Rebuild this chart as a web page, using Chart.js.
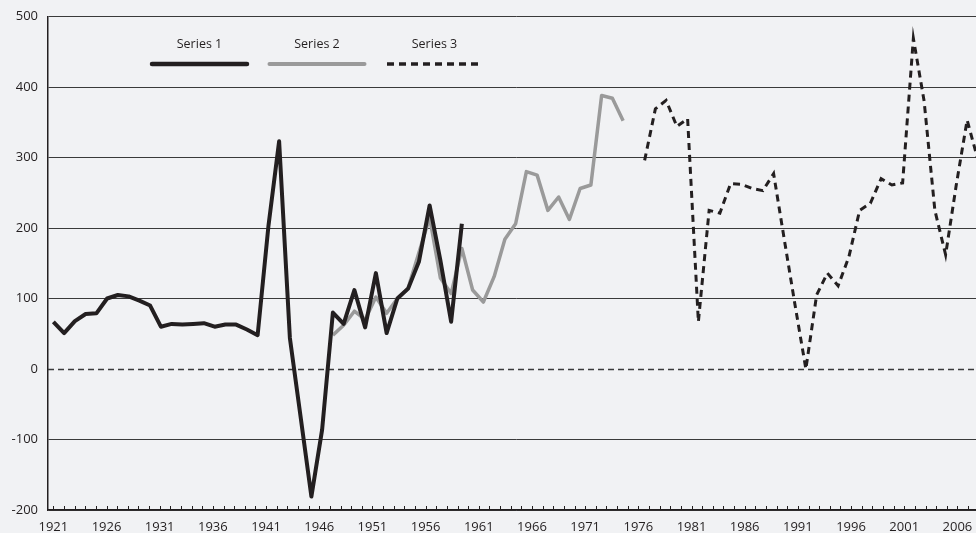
<!DOCTYPE html>
<html>
<head>
<meta charset="utf-8">
<title>Series 1–3, 1921–2007</title>
<script src="https://cdn.jsdelivr.net/npm/chart.js@4/dist/chart.umd.min.js"></script>
<style>
    html, body { margin: 0; padding: 0; background: #f1f2f4; overflow: hidden; }
    #wrap { width: 976px; height: 533px; overflow: hidden; }
    canvas { display: block; }
</style>
</head>
<body>
<div id="wrap"><canvas id="chart" width="984" height="533"></canvas></div>
<script>
// ─── Data ─────────────────────────────────────────────────────────
const firstYear = 1921;
const lastYear = 2008;
const years = [];
for (let y = firstYear; y <= lastYear; y++) years.push(String(y));

const series1Start = 1921;
const series1 = [67, 51, 68, 78, 79, 100, 105, 103, 97, 90,
                 60, 64, 63, 64, 65, 60, 63, 63, 56, 48,
                 202, 323, 44, -68, -181, -86, 80, 64, 112, 59,
                 136, 51, 100, 114, 152, 232, 154, 67, 206];

const series2Start = 1947;
const series2 = [48, 62, 82, 70, 102, 79, 100, 115, 165, 215,
                 129, 107, 171, 112, 95, 131, 184, 206, 280, 275,
                 225, 244, 212, 256, 261, 388, 384, 352];

const series3Start = 1976;
const series3 = [296, 369, 381, 344, 355, 67, 225, 221, 263, 262,
                 256, 253, 277, 183, 90, 0, 105, 136, 118, 159,
                 225, 235, 270, 261, 264, 469, 380, 225, 162, 262,
                 353, 297];

const yTicks = [-200, -100, 0, 100, 200, 300, 400, 500];

// the plotted years run a touch wider than the year ticks in the original
const DATA_X_MIN = 1920.5;
const DATA_X_MAX = 2007.57;

const INK = '#231f20';
const GREY = '#9a9a9a';

function toPoints(start, values) {
    return values.map((v, i) => ({ x: start + i, y: v }));
}

// ─── Plugins ──────────────────────────────────────────────────────
const zeroLine = {
    id: 'zeroLine',
    beforeDatasetsDraw(chart) {
        const { ctx, chartArea, scales } = chart;
        const y = Math.round(scales.y.getPixelForValue(0)) + 0.5;
        ctx.save();
        ctx.strokeStyle = '#3a3a3a';
        ctx.lineWidth = 1.3;
        ctx.setLineDash([6, 4]);
        ctx.beginPath();
        ctx.moveTo(chartArea.left, y);
        ctx.lineTo(chartArea.right, y);
        ctx.stroke();
        ctx.restore();
    },
};

const innerTicks = {
    id: 'innerTicks',
    afterDraw(chart) {
        const { ctx, chartArea, scales } = chart;
        const x = scales.x;
        ctx.save();
        ctx.strokeStyle = INK;
        ctx.lineWidth = 1;
        ctx.beginPath();
        x.ticks.forEach((t, i) => {
            const px = Math.round(x.getPixelForTick(i)) + 0.5;
            ctx.moveTo(px, chartArea.bottom);
            ctx.lineTo(px, chartArea.bottom - 4);
        });
        ctx.stroke();
        ctx.restore();
    },
};

const topLegend = {
    id: 'topLegend',
    afterDraw(chart) {
        const { ctx } = chart;
        const startX = 152, pitch = 117.5, len = 95;
        const textY = 44, lineY = 64;
        ctx.save();
        ctx.font = '12.5px "Open Sans", sans-serif';
        ctx.fillStyle = INK;
        ctx.textAlign = 'center';
        ctx.textBaseline = 'middle';
        chart.data.datasets.forEach((ds, i) => {
            const x0 = startX + i * pitch;
            ctx.fillText(ds.label, x0 + len / 2, textY);
            ctx.strokeStyle = ds.borderColor;
            ctx.lineWidth = ds.borderWidth + 0.5;
            ctx.lineCap = ds.borderDash ? 'butt' : 'round';
            ctx.setLineDash(ds.borderDash || []);
            ctx.beginPath();
            ctx.moveTo(x0, lineY);
            ctx.lineTo(x0 + len, lineY);
            ctx.stroke();
        });
        ctx.restore();
    },
};

// ─── Chart ────────────────────────────────────────────────────────
Chart.defaults.font.family = '"Open Sans", sans-serif';
Chart.defaults.font.size = 12;
Chart.defaults.color = INK;

new Chart(document.getElementById('chart'), {
    type: 'line',
    data: {
        labels: years,
        datasets: [
            {
                label: 'Series 1',
                data: toPoints(series1Start, series1),
                xAxisID: 'xd',
                borderColor: INK,
                borderWidth: 4,
                borderJoinStyle: 'round',
                pointRadius: 0,
                tension: 0,
                order: 1,
            },
            {
                label: 'Series 2',
                data: toPoints(series2Start, series2),
                xAxisID: 'xd',
                borderColor: GREY,
                borderWidth: 3.5,
                borderJoinStyle: 'round',
                pointRadius: 0,
                tension: 0,
                order: 2,
            },
            {
                label: 'Series 3',
                data: toPoints(series3Start, series3),
                xAxisID: 'xd',
                borderColor: INK,
                borderWidth: 3,
                borderDash: [7, 5],
                pointRadius: 0,
                tension: 0,
                order: 1,
            },
        ],
    },
    options: {
        responsive: false,
        animation: false,
        layout: { padding: { top: 16, right: 0, bottom: 0, left: 0 } },
        plugins: {
            legend: { display: false },
            tooltip: { enabled: false },
        },
        scales: {
            x: {
                type: 'category',
                offset: true,
                grid: { display: false },
                border: { color: INK, width: 1.5 },
                ticks: {
                    autoSkip: false,
                    maxRotation: 0,
                    padding: 1,
                    font: { size: 13 },
                    callback(value, index) {
                        return (Number(years[index]) - firstYear) % 5 === 0 ? years[index] : '';
                    },
                },
                afterFit(scale) { scale.height = 23; },
            },
            xd: {
                type: 'linear',
                display: false,
                min: DATA_X_MIN,
                max: DATA_X_MAX,
            },
            y: {
                min: yTicks[0],
                max: yTicks[yTicks.length - 1],
                afterBuildTicks(scale) { scale.ticks = yTicks.map(v => ({ value: v })); },
                grid: {
                    drawTicks: false,
                    lineWidth: 1,
                    color: (c) => (c.tick && c.tick.value === 0) ? 'rgba(0,0,0,0)' : '#3a3a3a',
                },
                border: { color: INK, width: 1.5 },
                ticks: { padding: 10, font: { size: 13, lineHeight: 1 } },
                afterFit(scale) { scale.width = 48; },
            },
        },
    },
    plugins: [zeroLine, innerTicks, topLegend],
});
</script>
</body>
</html>
